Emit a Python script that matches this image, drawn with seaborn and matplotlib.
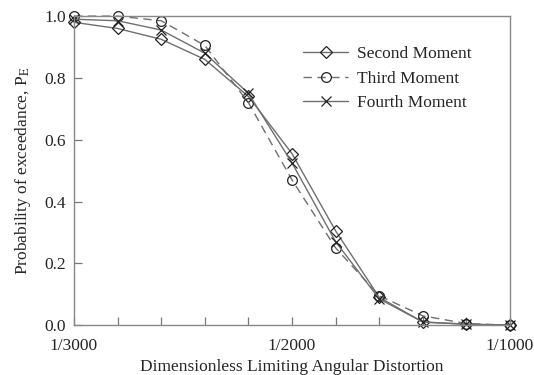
import pandas as pd
import matplotlib
matplotlib.use('Agg')
import matplotlib.pyplot as plt
import seaborn as sns

# denominators of the limiting angular distortion, 1/3000 ... 1/1000
denominators = [3000, 2800, 2600, 2400, 2200, 2000, 1800, 1600, 1400, 1200, 1000]
second_moment = [0.98, 0.96, 0.925, 0.86, 0.74, 0.555, 0.305, 0.09, 0.01, 0.003, 0.0]
third_moment = [1.0, 1.0, 0.985, 0.905, 0.72, 0.47, 0.25, 0.095, 0.03, 0.005, 0.0]
fourth_moment = [0.99, 0.985, 0.955, 0.88, 0.75, 0.525, 0.27, 0.085, 0.01, 0.003, 0.0]
tick_labels = {0: '1/3000', 5: '1/2000', 10: '1/1000'}

sns.set_style('ticks')
plt.rcParams['font.family'] = ['Liberation Serif', 'DejaVu Serif']
plt.rcParams['mathtext.fontset'] = 'stix'

pos = list(range(len(denominators)))
df = pd.DataFrame({'pos': pos, 'Second Moment': second_moment,
                   'Third Moment': third_moment, 'Fourth Moment': fourth_moment})

fig = plt.figure(figsize=(5.34, 3.75), dpi=100)
ax = fig.add_axes([0.1386, 0.133, 0.8165, 0.824])

styles = {
    'Second Moment': dict(marker='D', ls='-', ms=6),
    'Third Moment': dict(marker='o', ls=(0, (6, 4)), ms=7),
    'Fourth Moment': dict(marker='x', ls='-', ms=7),
}
for name, st in styles.items():
    sns.lineplot(data=df, x='pos', y=name, ax=ax, label=name, color='#6f6f6f',
                 lw=1.0, linestyle=st['ls'], marker=st['marker'], markersize=st['ms'],
                 markerfacecolor='none', markeredgecolor='#222222', markeredgewidth=0.9,
                 clip_on=False)

fs = 12.5
ax.set_xlim(0, 10)
ax.set_ylim(0, 1)
ax.set_xticks(pos)
ax.set_xticklabels([tick_labels.get(p, '') for p in pos], fontsize=fs)
ax.set_yticks([0, 0.2, 0.4, 0.6, 0.8, 1.0])
ax.set_yticklabels(['0.0', '0.2', '0.4', '0.6', '0.8', '1.0'], fontsize=fs)
ax.tick_params(direction='in', length=6, color='#777777', width=0.9)
ax.tick_params(axis='x', pad=9)
ax.tick_params(axis='y', pad=6)
for sp in ax.spines.values():
    sp.set_color('#888888')
    sp.set_linewidth(1.0)

ax.set_xlabel('Dimensionless Limiting Angular Distortion', fontsize=fs, labelpad=4)
ax.set_ylabel('Probability of exceedance, P$_\\mathrm{E}$', fontsize=fs, labelpad=8)

ax.legend(loc='upper right', bbox_to_anchor=(0.948, 0.955), frameon=False, fontsize=fs,
          handlelength=2.6, handletextpad=0.5, labelspacing=0.5)

fig.savefig('out.png', dpi=100)
